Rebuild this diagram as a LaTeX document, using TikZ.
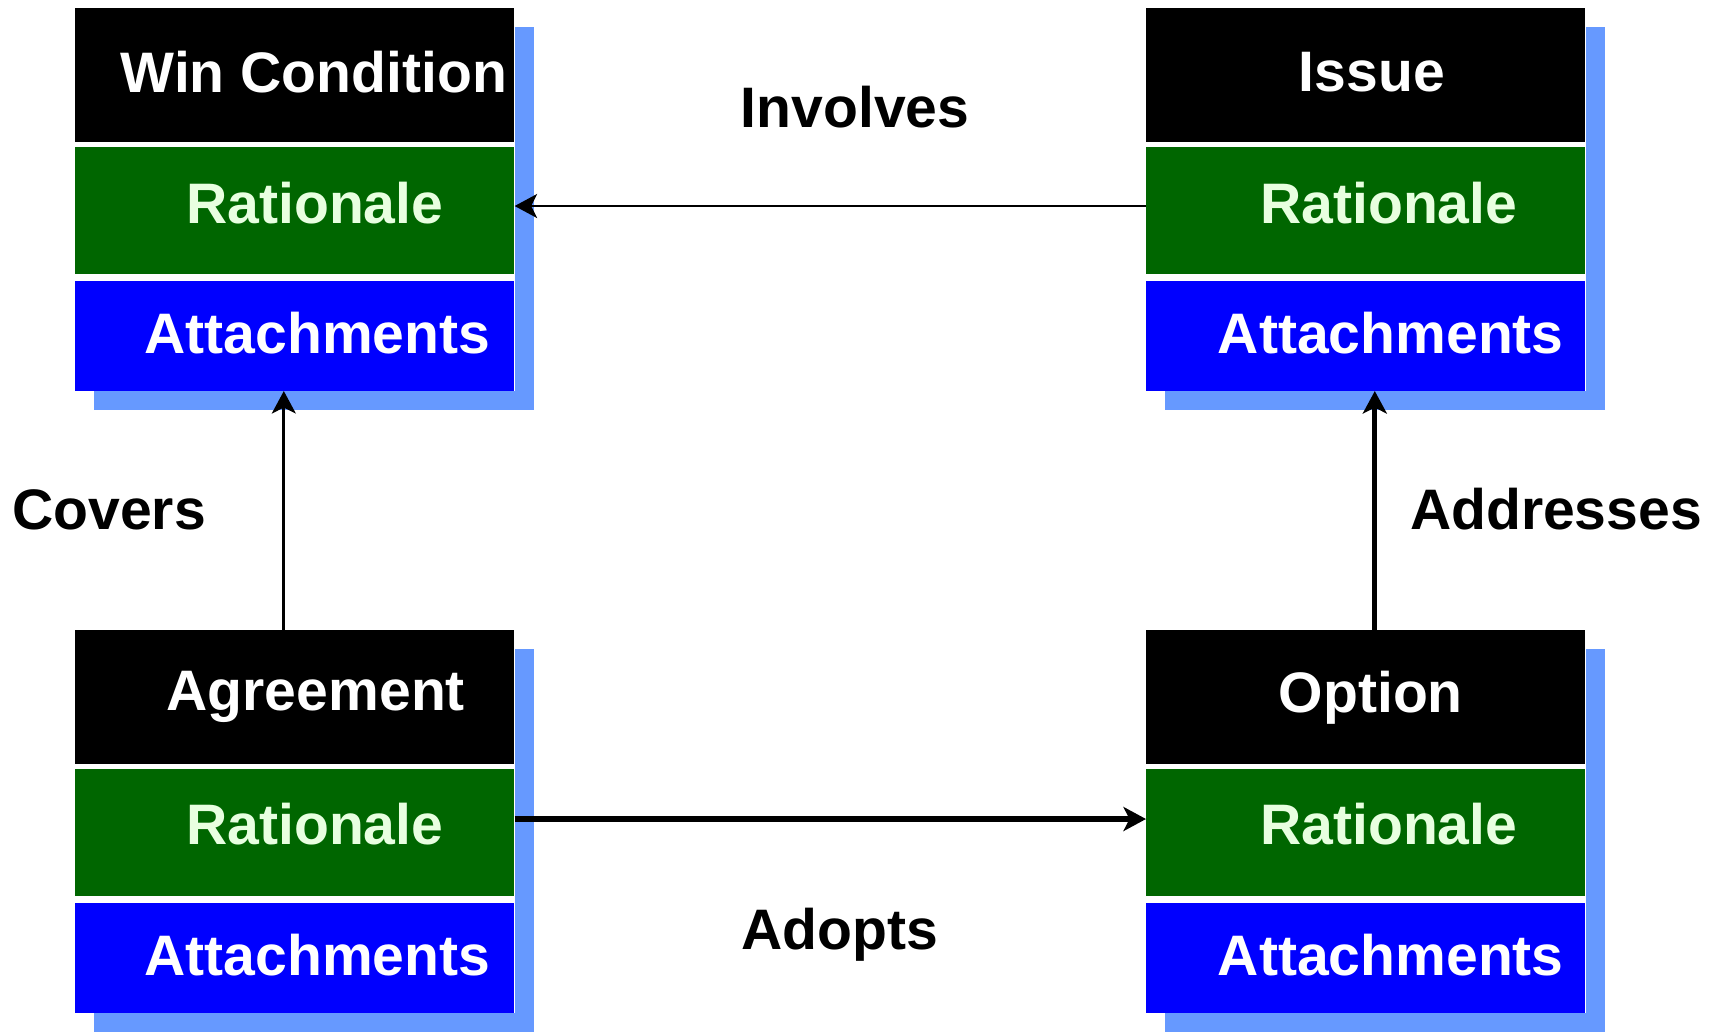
\documentclass[tikz,border=0pt]{standalone}
\usepackage{fontspec}
\setmainfont{Liberation Sans}
\usetikzlibrary{arrows.meta,positioning,calc,backgrounds}

\definecolor{ratgreen}{HTML}{006600}
\definecolor{attblue}{HTML}{0000FF}
\definecolor{shadowblue}{HTML}{6699FF}
\definecolor{rattext}{HTML}{E8FFE0}

\begin{document}
\begin{tikzpicture}[
  x=0.02cm, y=-0.02cm,
  sec/.style={minimum width=8.78cm, inner sep=0pt, font=\bfseries\fontsize{32.5}{39}\selectfont},
  head/.style={sec, fill=black, text=white, minimum height=2.68cm},
  rat/.style={sec, fill=ratgreen, text=rattext, minimum height=2.54cm},
  att/.style={sec, fill=attblue, text=white, minimum height=2.2cm},
  lbl/.style={font=\bfseries\fontsize{32.5}{39}\selectfont, inner sep=0pt, anchor=base},
  linkarr/.style={-{Stealth[length=0.45cm, width=0.48cm, inset=0.12cm]}, line width=1.6pt},
  boldarr/.style={-{Stealth[length=0.45cm, width=0.48cm, inset=0.12cm]}, line width=3pt},
]
  \useasboundingbox (0,0) rectangle (1711,1035);

  % Win Condition
  \node[head, anchor=north west] (wc-head) at (75,8) {\hspace*{0.76cm}\raisebox{0.13cm}{Win Condition}};
  \node[rat, below=0.08cm of wc-head] (wc-rat) {\hspace*{0.8cm}\raisebox{0.3cm}{Rationale}};
  \node[att, below=0.12cm of wc-rat] (wc-att) {\hspace*{0.9cm}\raisebox{0.13cm}{Attachments}};

  % Issue
  \node[head, anchor=north west] (is-head) at (1146,8) {\hspace*{0.24cm}\raisebox{0.13cm}{Issue}};
  \node[rat, below=0.08cm of is-head] (is-rat) {\hspace*{0.92cm}\raisebox{0.3cm}{Rationale}};
  \node[att, below=0.12cm of is-rat] (is-att) {\hspace*{1cm}\raisebox{0.13cm}{Attachments}};

  % Agreement
  \node[head, anchor=north west] (ag-head) at (75,630) {\hspace*{0.84cm}Agreement};
  \node[rat, below=0.08cm of ag-head] (ag-rat) {\hspace*{0.8cm}\raisebox{0.34cm}{Rationale}};
  \node[att, below=0.12cm of ag-rat] (ag-att) {\hspace*{0.9cm}\raisebox{0.13cm}{Attachments}};

  % Option
  \node[head, anchor=north west] (op-head) at (1146,630) {\hspace*{0.2cm}Option};
  \node[rat, below=0.08cm of op-head] (op-rat) {\hspace*{0.92cm}\raisebox{0.34cm}{Rationale}};
  \node[att, below=0.12cm of op-rat] (op-att) {\hspace*{1cm}\raisebox{0.13cm}{Attachments}};

  % Shadows, with white gaps between the sections
  \begin{scope}[on background layer]
    \fill[white] (0,0) rectangle (1711,1035);
    \foreach \ent in {wc,is,ag,op} {
      \fill[shadowblue] ($(\ent-head.north west)+(19,19)$) rectangle ($(\ent-att.south east)+(19,19)$);
      \fill[white] (\ent-head.north west) rectangle (\ent-att.south east);
    }
  \end{scope}

  % Relations
  \draw[linkarr] ([yshift=0.09cm]is-rat.west) -- ([yshift=0.09cm]wc-rat.east);
  \draw[linkarr] ([xshift=-0.22cm]ag-head.north) -- ([xshift=-0.22cm]wc-att.south);
  \draw[boldarr] ([xshift=0.18cm]op-head.north) -- ([xshift=0.18cm]is-att.south);
  \draw[boldarr] ([yshift=0.27cm]ag-rat.east) -- ([yshift=0.27cm]op-rat.west);

  \node[lbl] (involves) at (855,127) {Involves};
  \node[lbl] (covers) at (109,529) {Covers};
  \node[lbl] (addresses) at (1556,529) {Addresses};
  \node[lbl] (adopts) at (840,949) {Adopts};
\end{tikzpicture}
\end{document}
